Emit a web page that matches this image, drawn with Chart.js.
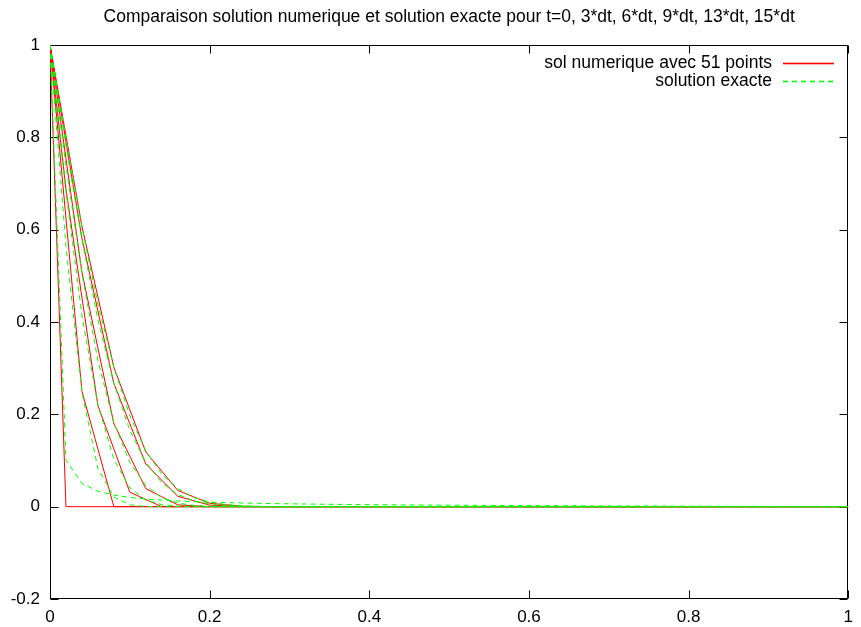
<!DOCTYPE html>
<html lang="fr">
<head>
<meta charset="utf-8">
<title>Comparaison solution numerique et solution exacte</title>
<script src="https://cdn.jsdelivr.net/npm/chart.js@4.4.1/dist/chart.umd.min.js"></script>
<style>
    html, body { margin: 0; padding: 0; background: #fff; }
    canvas { display: block; }
</style>
</head>
<body>
<canvas id="chart" width="861" height="627"></canvas>
<script>
// maillage en x (51 points)
const xs = [
    0, 0.02, 0.04, 0.06, 0.08, 0.1, 0.12, 0.14, 0.16, 0.18,
    0.2, 0.22, 0.24, 0.26, 0.28, 0.3, 0.32, 0.34, 0.36, 0.38,
    0.4, 0.42, 0.44, 0.46, 0.48, 0.5, 0.52, 0.54, 0.56, 0.58,
    0.6, 0.62, 0.64, 0.66, 0.68, 0.7, 0.72, 0.74, 0.76, 0.78,
    0.8, 0.82, 0.84, 0.86, 0.88, 0.9, 0.92, 0.94, 0.96, 0.98,
    1,
];

const xTicks = [0, 0.2, 0.4, 0.6, 0.8, 1];
const yTicks = [-0.2, 0, 0.2, 0.4, 0.6, 0.8, 1];

// solution numerique : t=0, 3dt, 6dt, 9dt, 13dt, 15dt
const numT0 = [
    1, 0, 0, 0, 0, 0, 0, 0, 0, 0,
    0, 0, 0, 0, 0, 0, 0, 0, 0, 0,
    0, 0, 0, 0, 0, 0, 0, 0, 0, 0,
    0, 0, 0, 0, 0, 0, 0, 0, 0, 0,
    0, 0, 0, 0, 0, 0, 0, 0, 0, 0,
    0,
];
const numT3 = [
    1, 0.625, 0.25, 0.125, 0, 0, 0, 0, 0, 0,
    0, 0, 0, 0, 0, 0, 0, 0, 0, 0,
    0, 0, 0, 0, 0, 0, 0, 0, 0, 0,
    0, 0, 0, 0, 0, 0, 0, 0, 0, 0,
    0, 0, 0, 0, 0, 0, 0, 0, 0, 0,
    0,
];
const numT6 = [
    1, 0.6875, 0.4531, 0.2188, 0.125, 0.0313, 0.0156, 0, 0, 0,
    0, 0, 0, 0, 0, 0, 0, 0, 0, 0,
    0, 0, 0, 0, 0, 0, 0, 0, 0, 0,
    0, 0, 0, 0, 0, 0, 0, 0, 0, 0,
    0, 0, 0, 0, 0, 0, 0, 0, 0, 0,
    0,
];
const numT9 = [
    1, 0.7539, 0.5078, 0.3438, 0.1797, 0.1094, 0.0391, 0.0215, 0.0039, 0.002,
    0, 0, 0, 0, 0, 0, 0, 0, 0, 0,
    0, 0, 0, 0, 0, 0, 0, 0, 0, 0,
    0, 0, 0, 0, 0, 0, 0, 0, 0, 0,
    0, 0, 0, 0, 0, 0, 0, 0, 0, 0,
    0,
];
const numT13 = [
    1, 0.7905, 0.5811, 0.424, 0.2668, 0.1796, 0.0923, 0.0574, 0.0225, 0.0129,
    0.0034, 0.0018, 0.0002, 0.0001, 0, 0, 0, 0, 0, 0,
    0, 0, 0, 0, 0, 0, 0, 0, 0, 0,
    0, 0, 0, 0, 0, 0, 0, 0, 0, 0,
    0, 0, 0, 0, 0, 0, 0, 0, 0, 0,
    0,
];
const numT15 = [
    1, 0.8036, 0.6072, 0.4545, 0.3018, 0.2101, 0.1185, 0.0768, 0.0352, 0.0213,
    0.0074, 0.0042, 0.001, 0.0005, 0.0001, 0, 0, 0, 0, 0,
    0, 0, 0, 0, 0, 0, 0, 0, 0, 0,
    0, 0, 0, 0, 0, 0, 0, 0, 0, 0,
    0, 0, 0, 0, 0, 0, 0, 0, 0, 0,
    0,
];

// solution exacte aux memes instants
const exaT0 = [
    1, 0.1008, 0.0503, 0.0335, 0.0251, 0.02, 0.0166, 0.0142, 0.0123, 0.0109,
    0.0098, 0.0088, 0.008, 0.0073, 0.0067, 0.0062, 0.0058, 0.0053, 0.005, 0.0046,
    0.0044, 0.0041, 0.0038, 0.0036, 0.0034, 0.0032, 0.003, 0.0028, 0.0026, 0.0025,
    0.0023, 0.0022, 0.002, 0.0019, 0.0017, 0.0016, 0.0015, 0.0014, 0.0013, 0.0011,
    0.001, 0.0009, 0.0008, 0.0007, 0.0006, 0.0005, 0.0004, 0.0003, 0.0002, 0.0001,
    0,
];
const exaT3 = [
    1, 0.564, 0.248, 0.083, 0.021, 0.004, 0.0005, 0, 0, 0,
    0, 0, 0, 0, 0, 0, 0, 0, 0, 0,
    0, 0, 0, 0, 0, 0, 0, 0, 0, 0,
    0, 0, 0, 0, 0, 0, 0, 0, 0, 0,
    0, 0, 0, 0, 0, 0, 0, 0, 0, 0,
    0,
];
const exaT6 = [
    1, 0.683, 0.414, 0.221, 0.1025, 0.041, 0.0143, 0.0043, 0.0011, 0.0002,
    0, 0, 0, 0, 0, 0, 0, 0, 0, 0,
    0, 0, 0, 0, 0, 0, 0, 0, 0, 0,
    0, 0, 0, 0, 0, 0, 0, 0, 0, 0,
    0, 0, 0, 0, 0, 0, 0, 0, 0, 0,
    0,
];
const exaT9 = [
    1, 0.739, 0.505, 0.317, 0.182, 0.096, 0.0455, 0.0196, 0.0077, 0.0027,
    0.0008, 0.0002, 0, 0, 0, 0, 0, 0, 0, 0,
    0, 0, 0, 0, 0, 0, 0, 0, 0, 0,
    0, 0, 0, 0, 0, 0, 0, 0, 0, 0,
    0, 0, 0, 0, 0, 0, 0, 0, 0, 0,
    0,
];
const exaT13 = [
    1, 0.7815, 0.579, 0.405, 0.267, 0.1655, 0.096, 0.052, 0.0265, 0.0126,
    0.0055, 0.0023, 0.0009, 0.0003, 0.0001, 0, 0, 0, 0, 0,
    0, 0, 0, 0, 0, 0, 0, 0, 0, 0,
    0, 0, 0, 0, 0, 0, 0, 0, 0, 0,
    0, 0, 0, 0, 0, 0, 0, 0, 0, 0,
    0,
];
const exaT15 = [
    1, 0.796, 0.606, 0.439, 0.302, 0.197, 0.121, 0.071, 0.039, 0.02,
    0.0098, 0.0045, 0.0019, 0.0008, 0.0003, 0.0001, 0, 0, 0, 0,
    0, 0, 0, 0, 0, 0, 0, 0, 0, 0,
    0, 0, 0, 0, 0, 0, 0, 0, 0, 0,
    0, 0, 0, 0, 0, 0, 0, 0, 0, 0,
    0,
];

const TITLE = 'Comparaison solution numerique et solution exacte pour t=0, 3*dt, 6*dt, 9*dt, 13*dt, 15*dt';
const LABEL_NUM = 'sol numerique avec 51 points';
const LABEL_EXA = 'solution exacte';
const FONT = '"Liberation Sans", Arial, Helvetica, sans-serif';
const RED = '#ff0000';
const GREEN = '#00ff00';
const DASH = [5, 4];

const toPoints = (ys) => ys.map((y, i) => ({ x: xs[i], y: y }));

const numDatasets = [numT0, numT3, numT6, numT9, numT13, numT15].map((ys) => ({
    label: LABEL_NUM,
    data: toPoints(ys),
    borderColor: RED,
    borderWidth: 1,
    pointRadius: 0,
    order: 1,
}));
const exaDatasets = [exaT0, exaT3, exaT6, exaT9, exaT13, exaT15].map((ys) => ({
    label: LABEL_EXA,
    data: toPoints(ys),
    borderColor: GREEN,
    borderWidth: 1,
    borderDash: DASH,
    pointRadius: 0,
    order: 0,
}));

// cadre + graduations vers l'interieur, sur les 4 cotes (style gnuplot)
const framePlugin = {
    id: 'frame',
    beforeDatasetsDraw(chart) {
        const { ctx, chartArea: a, scales } = chart;
        const L = Math.round(a.left) + 0.5;
        const R = Math.round(a.right) - 0.5;
        const T = Math.round(a.top) + 0.5;
        const B = Math.round(a.bottom) - 0.5;
        const len = 8;
        ctx.save();
        ctx.strokeStyle = '#000';
        ctx.lineWidth = 1;
        ctx.beginPath();
        xTicks.forEach((v) => {
            const px = Math.round(scales.x.getPixelForValue(v)) + 0.5;
            ctx.moveTo(px, B); ctx.lineTo(px, B - len);
            ctx.moveTo(px, T); ctx.lineTo(px, T + len);
        });
        yTicks.forEach((v) => {
            const py = Math.round(scales.y.getPixelForValue(v)) + 0.5;
            ctx.moveTo(L, py); ctx.lineTo(L + len, py);
            ctx.moveTo(R, py); ctx.lineTo(R - len, py);
        });
        ctx.stroke();
        ctx.strokeRect(L, T, R - L, B - T);
        ctx.restore();
    },
};

// legende en haut a droite : texte puis echantillon de trait
const keyPlugin = {
    id: 'key',
    afterDraw(chart) {
        const { ctx } = chart;
        const textRight = 772;
        const x0 = 783;
        const x1 = 834;
        const rows = [
            { text: LABEL_NUM, color: RED, dash: null, y: 63 },
            { text: LABEL_EXA, color: GREEN, dash: DASH, y: 81 },
        ];
        ctx.save();
        ctx.font = '17.5px ' + FONT;
        ctx.textAlign = 'right';
        ctx.textBaseline = 'middle';
        rows.forEach((r) => {
            ctx.fillStyle = '#000';
            ctx.fillText(r.text, textRight, r.y);
            ctx.fillStyle = r.color;
            const top = r.y - 0.3;
            if (!r.dash) {
                ctx.fillRect(x0, top, x1 - x0, 1.6);
                return;
            }
            const [on, off] = r.dash;
            for (let x = x0; x < x1; x += on + off) {
                ctx.fillRect(x, top, Math.min(on, x1 - x), 1.6);
            }
        });
        ctx.restore();
    },
};

const fmt = (v) => String(Math.round(v * 10) / 10);

const ctx = document.getElementById('chart').getContext('2d');
new Chart(ctx, {
    type: 'line',
    data: { datasets: [...numDatasets, ...exaDatasets] },
    options: {
        responsive: false,
        animation: false,
        layout: { padding: { left: 0, right: 7, top: 0, bottom: 0 } },
        elements: { line: { tension: 0 } },
        plugins: {
            legend: { display: false },
            tooltip: { enabled: false },
            title: {
                display: true,
                text: TITLE,
                fullSize: false,
                color: '#000',
                font: { family: FONT, size: 17.5, weight: 'normal' },
                padding: { top: 7, bottom: 17 },
            },
        },
        scales: {
            x: {
                type: 'linear',
                min: 0,
                max: 1,
                afterBuildTicks: (s) => { s.ticks = xTicks.map((v) => ({ value: v })); },
                afterFit: (s) => { s.height = 28; },
                grid: { display: false, drawTicks: false },
                border: { display: false },
                ticks: {
                    color: '#000',
                    padding: 8,
                    maxRotation: 0,
                    font: { family: FONT, size: 17 },
                    callback: fmt,
                },
            },
            y: {
                type: 'linear',
                min: -0.2,
                max: 1,
                afterBuildTicks: (s) => { s.ticks = yTicks.map((v) => ({ value: v })); },
                afterFit: (s) => { s.width = 50; },
                grid: { display: false, drawTicks: false },
                border: { display: false },
                ticks: {
                    color: '#000',
                    padding: 10,
                    font: { family: FONT, size: 17 },
                    callback: fmt,
                },
            },
        },
    },
    plugins: [framePlugin, keyPlugin],
});
</script>
</body>
</html>
